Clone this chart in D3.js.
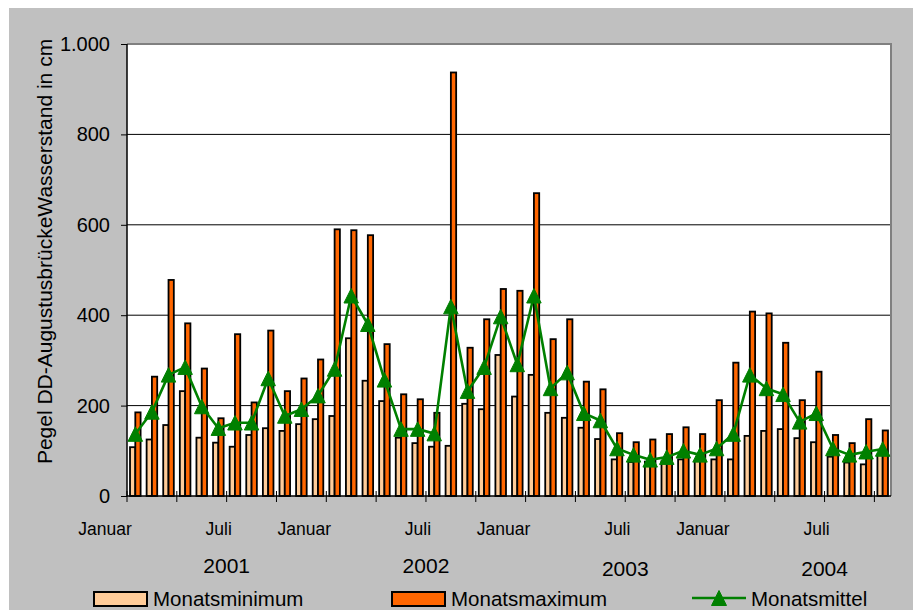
<!DOCTYPE html>
<html>
<head>
<meta charset="utf-8">
<script src="https://cdn.jsdelivr.net/npm/d3@7"></script>
<style>
  html, body { margin: 0; padding: 0; background: #ffffff; }
  svg { display: block; }
  text { font-family: "Liberation Sans", Arial, sans-serif; fill: #000; }
</style>
</head>
<body>
<svg id="chart" width="913" height="610"></svg>
<script>
// ---------- data ----------
const categories = d3.timeMonth.range(new Date(2001, 0, 1), new Date(2004, 10, 1)).map(d3.timeFormat("%Y-%m"));

const monatsminimum = [108,125,157,232,129,118,109,135,150,144,159,170,
                       177,349,255,210,129,117,109,111,204,192,312,220,
                       268,184,173,151,126,81,75,76,77,81,77,81,
                       81,133,144,148,128,119,87,74,70,91];
const monatsmaximum = [185,264,478,382,282,172,358,207,366,232,260,302,
                       590,588,577,336,225,214,184,937,328,391,458,454,
                       670,347,391,253,236,139,119,125,137,152,137,212,
                       295,408,404,339,212,275,135,117,170,145];
const monatsmittel  = [137,186,268,285,198,150,162,162,260,177,192,222,
                       281,443,380,257,148,148,138,419,232,285,397,291,
                       443,238,273,183,167,105,91,80,86,100,91,105,
                       137,268,238,225,164,183,105,91,98,104];

const yTicks = [0, 200, 400, 600, 800, 1000];
const monthLabels = [
  {cat: "2001-01", text: "Januar"}, {cat: "2001-07", text: "Juli"},
  {cat: "2002-01", text: "Januar"}, {cat: "2002-07", text: "Juli"},
  {cat: "2003-01", text: "Januar"}, {cat: "2003-07", text: "Juli"},
  {cat: "2004-01", text: "Januar"}, {cat: "2004-07", text: "Juli"}
];
const yearLabels = [
  {cat: "2001-07", text: "2001"}, {cat: "2002-07", text: "2002"},
  {cat: "2003-07", text: "2003"}, {cat: "2004-07", text: "2004"}
];
const seriesNames = ["Monatsminimum", "Monatsmaximum", "Monatsmittel"];
const yTitle = "Pegel DD-AugustusbrückeWasserstand in cm";

// ---------- layout ----------
const W = 913, H = 610;
const plot = {left: 127, right: 891, top: 44, bottom: 496};
const colors = {min: "#FFCC99", max: "#FF6600", mean: "#008000", bg: "#C0C0C0"};

const svg = d3.select("#chart");

svg.append("rect").attr("x", 9).attr("y", 8).attr("width", W - 9).attr("height", H - 8).attr("fill", colors.bg);
svg.append("rect").attr("x", plot.left).attr("y", plot.top)
   .attr("width", plot.right - plot.left).attr("height", plot.bottom - plot.top).attr("fill", "#fff");

const x = d3.scaleBand().domain(categories).range([plot.left, plot.right]).paddingInner(0).paddingOuter(0);
const xSub = d3.scaleBand().domain(["min", "max"]).range([0, x.bandwidth()]).paddingInner(0).paddingOuter(0.57);
const y = d3.scaleLinear().domain([0, 1000]).range([plot.bottom, plot.top]);

const deLocale = d3.formatLocale({decimal: ",", thousands: ".", grouping: [3], currency: ["", " €"]});
const fmt = deLocale.format(",");

// gridlines
svg.append("g").selectAll("line").data(yTicks.filter(v => v > 0 && v < 1000)).join("line")
  .attr("x1", plot.left).attr("x2", plot.right)
  .attr("y1", d => y(d)).attr("y2", d => y(d))
  .attr("stroke", "#000").attr("stroke-width", 1);

// plot border top/right (gray)
svg.append("path")
  .attr("d", `M${plot.left},${plot.top}H${plot.right}V${plot.bottom}`)
  .attr("fill", "none").attr("stroke", "#808080").attr("stroke-width", 2);

// bars
const rows = categories.map((c, i) => ({c, min: monatsminimum[i], max: monatsmaximum[i], mean: monatsmittel[i]}));
const gBars = svg.append("g");
gBars.selectAll("rect.min").data(rows).join("rect").attr("class", "min")
  .attr("x", d => x(d.c) + xSub("min")).attr("width", xSub.bandwidth())
  .attr("y", d => y(d.min)).attr("height", d => y(0) - y(d.min))
  .attr("fill", colors.min).attr("stroke", "#000").attr("stroke-width", 1.8);
gBars.selectAll("rect.max").data(rows).join("rect").attr("class", "max")
  .attr("x", d => x(d.c) + xSub("max")).attr("width", xSub.bandwidth())
  .attr("y", d => y(d.max)).attr("height", d => y(0) - y(d.max))
  .attr("fill", colors.max).attr("stroke", "#000").attr("stroke-width", 1.8);

// axes
const yAxis = d3.axisLeft(y).tickValues(yTicks).tickFormat(fmt).tickSize(6).tickPadding(11);
const gy = svg.append("g").attr("transform", `translate(${plot.left},0)`).call(yAxis);
gy.select(".domain").attr("stroke", "#000").attr("stroke-width", 1.5).attr("d", `M0,${plot.top}V${plot.bottom}`);
gy.selectAll(".tick line").attr("stroke", "#000").attr("stroke-width", 1);
gy.selectAll(".tick text").attr("font-size", 20).attr("font-family", "Liberation Sans, Arial, sans-serif").attr("fill", "#000");

svg.append("line").attr("x1", plot.left).attr("x2", plot.right).attr("y1", plot.bottom).attr("y2", plot.bottom)
  .attr("stroke", "#000").attr("stroke-width", 1.5);

// x ticks every 3 months, crossing the axis
svg.append("g").selectAll("line").data(categories.filter((c, i) => i % 3 === 0)).join("line")
  .attr("x1", d => x(d)).attr("x2", d => x(d))
  .attr("y1", plot.bottom - 5).attr("y2", plot.bottom + 6)
  .attr("stroke", "#000").attr("stroke-width", 1);

// month labels
svg.append("g").selectAll("text").data(monthLabels).join("text")
  .attr("x", d => x(d.cat) + (d.text === "Januar" ? -22 : -8))
  .attr("y", 535)
  .attr("text-anchor", "middle").attr("font-size", 17.5)
  .text(d => d.text);

// year labels
svg.append("g").selectAll("text").data(yearLabels).join("text")
  .attr("x", d => x(d.cat))
  .attr("y", (d, i) => i < 2 ? 572.5 : 575.5)
  .attr("text-anchor", "middle").attr("font-size", 21)
  .text(d => d.text);

// mean line + triangles
const line = d3.line().x(d => x(d.c) + x.bandwidth() / 2).y(d => y(d.mean));
svg.append("path").datum(rows).attr("d", line)
  .attr("fill", "none").attr("stroke", colors.mean).attr("stroke-width", 2.6).attr("stroke-linejoin", "round");

const tri = (cx, cy, s) => `M${cx},${cy - s / 2}L${cx + s / 2},${cy + s / 2}L${cx - s / 2},${cy + s / 2}Z`;
svg.append("g").selectAll("path").data(rows).join("path")
  .attr("d", d => tri(x(d.c) + x.bandwidth() / 2, y(d.mean), 14.5))
  .attr("fill", colors.mean).attr("stroke", colors.mean).attr("stroke-width", 1);

// y title
svg.append("text")
  .attr("transform", `translate(52,${(35 + 468) / 2}) rotate(-90)`)
  .attr("text-anchor", "middle").attr("font-size", 21)
  .text(yTitle);

// legend
const legend = svg.append("g");
legend.append("rect").attr("x", 94).attr("y", 592).attr("width", 53).attr("height", 14)
  .attr("fill", colors.min).attr("stroke", "#000").attr("stroke-width", 2);
legend.append("text").attr("x", 153).attr("y", 606).attr("font-size", 20.5).text(seriesNames[0]);

legend.append("rect").attr("x", 392).attr("y", 592).attr("width", 53).attr("height", 14)
  .attr("fill", colors.max).attr("stroke", "#000").attr("stroke-width", 2);
legend.append("text").attr("x", 451).attr("y", 606).attr("font-size", 20.5).text(seriesNames[1]);

legend.append("line").attr("x1", 692).attr("x2", 746).attr("y1", 598).attr("y2", 598)
  .attr("stroke", colors.mean).attr("stroke-width", 2.6);
legend.append("path").attr("d", tri(719, 598, 15)).attr("fill", colors.mean).attr("stroke", colors.mean);
legend.append("text").attr("x", 751).attr("y", 606).attr("font-size", 20.5).text(seriesNames[2]);
</script>
</body>
</html>
